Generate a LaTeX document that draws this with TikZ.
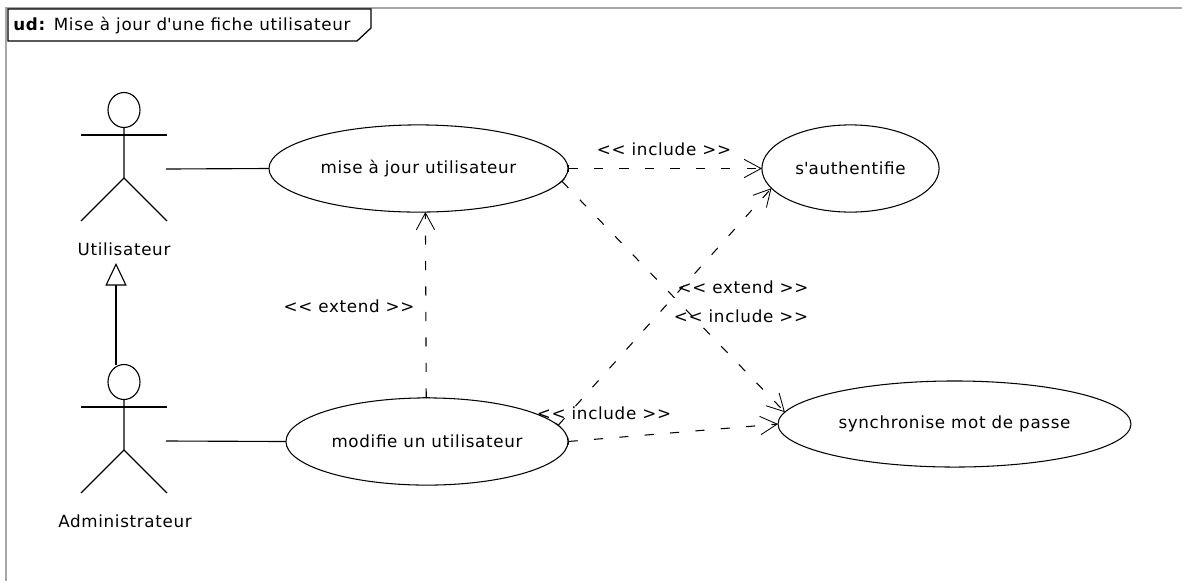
\documentclass[tikz,border=0pt]{standalone}
\usepackage{fontspec}
\setmainfont[LetterSpace=4]{DejaVu Sans}
\usetikzlibrary{shapes.geometric,arrows.meta,calc}
\tikzset{
  usecase/.style={draw,ellipse,inner sep=0pt,outer sep=0pt,line width=.75pt},
  label/.style={inner sep=0pt,font=\fontsize{11.9}{13}\selectfont},
  assoc/.style={line width=.8pt},
  dep/.style={line width=.75pt,dash pattern=on 6.5pt off 11.6pt,{Bar[width=5pt,line width=.5pt]}-{Straight Barb[length=12pt,width=13pt,line width=.6pt]}},
  limb/.style={line width=.8pt},
}
\newcommand{\stickman}[1]{
\draw[limb] (#1) ellipse (16 and 17.5);
\draw[limb] ($(#1)+(-43,25)$) -- ($(#1)+(43,25)$);
\draw[limb] ($(#1)+(0,17.5)$) -- ($(#1)+(0,68)$) -- ($(#1)+(-43,111)$);
\draw[limb] ($(#1)+(0,68)$) -- ($(#1)+(43,111)$);
}
\begin{document}
\begin{tikzpicture}[x=.025cm,y=-.025cm]
\useasboundingbox (0,0) rectangle (1182,581);
\draw[gray!70,line width=.75pt] (6,581) -- (6,8) -- (1182,8);
\coordinate (tabtl) at (8,9);
\coordinate (tabtr) at (371,9);
\coordinate (tabr) at (371,28);
\coordinate (tabb) at (357,41);
\coordinate (tabbl) at (8,41);
\draw[line width=.9pt] (tabtl) -- (tabtr) -- (tabr) -- (tabb) -- (tabbl) -- cycle;
\node[label,anchor=west] (title) at (13,26) {\textbf{ud:} Mise à jour d\textquotesingle une fiche utilisateur};
\coordinate (userhead) at (124,110);
\coordinate (adminhead) at (124,382);
\stickman{userhead}
\stickman{adminhead}
\node[label] (user) at (124,249) {Utilisateur};
\node[label] (admin) at (125,521) {Administrateur};
\coordinate (userhand) at (166,169);
\coordinate (adminhand) at (166,441);
\node[usecase,minimum width=212.7pt,minimum height=62pt] (update) at (418.5,168.5) {};
\node[label] at (update) {mise à jour utilisateur};
\node[usecase,minimum width=126pt,minimum height=62pt] (auth) at (850.5,168.5) {};
\node[label] at (auth) {s\textquotesingle authentifie};
\node[usecase,minimum width=200.6pt,minimum height=62pt] (modify) at (427,441.5) {};
\node[label] at (modify) {modifie un utilisateur};
\node[usecase,minimum width=251pt,minimum height=61.2pt] (sync) at (954.5,424) {};
\node[label] at (sync) {synchronise mot de passe};
\draw[assoc] (userhand) -- (update.west);
\draw[assoc] (adminhand) -- (modify.west);
\coordinate (genfoot) at (116,365);
\coordinate (gentip) at (116,263);
\draw[assoc,-{Triangle[open,length=16pt,width=15pt,fill=white]}] (genfoot) -- (gentip);
\draw[dep] (update.east) -- (auth.west);
\draw[dep] (update.-5.6) -- (sync.176.3);
\draw[dep] (modify.91) -- (update.-81.5);
\draw[dep] (modify.7) -- (auth.-166.4);
\draw[dep] (modify.east) -- (sync.west);
\node[label] (inclauth) at (664,149) {<{}< include >{}>};
\node[label] (extauth) at (743,287) {<{}< extend >{}>};
\node[label] (inclsync) at (741,316) {<{}< include >{}>};
\node[label] (inclmod) at (604,413) {<{}< include >{}>};
\node[label] (extupd) at (349,306) {<{}< extend >{}>};
\end{tikzpicture}
\end{document}
